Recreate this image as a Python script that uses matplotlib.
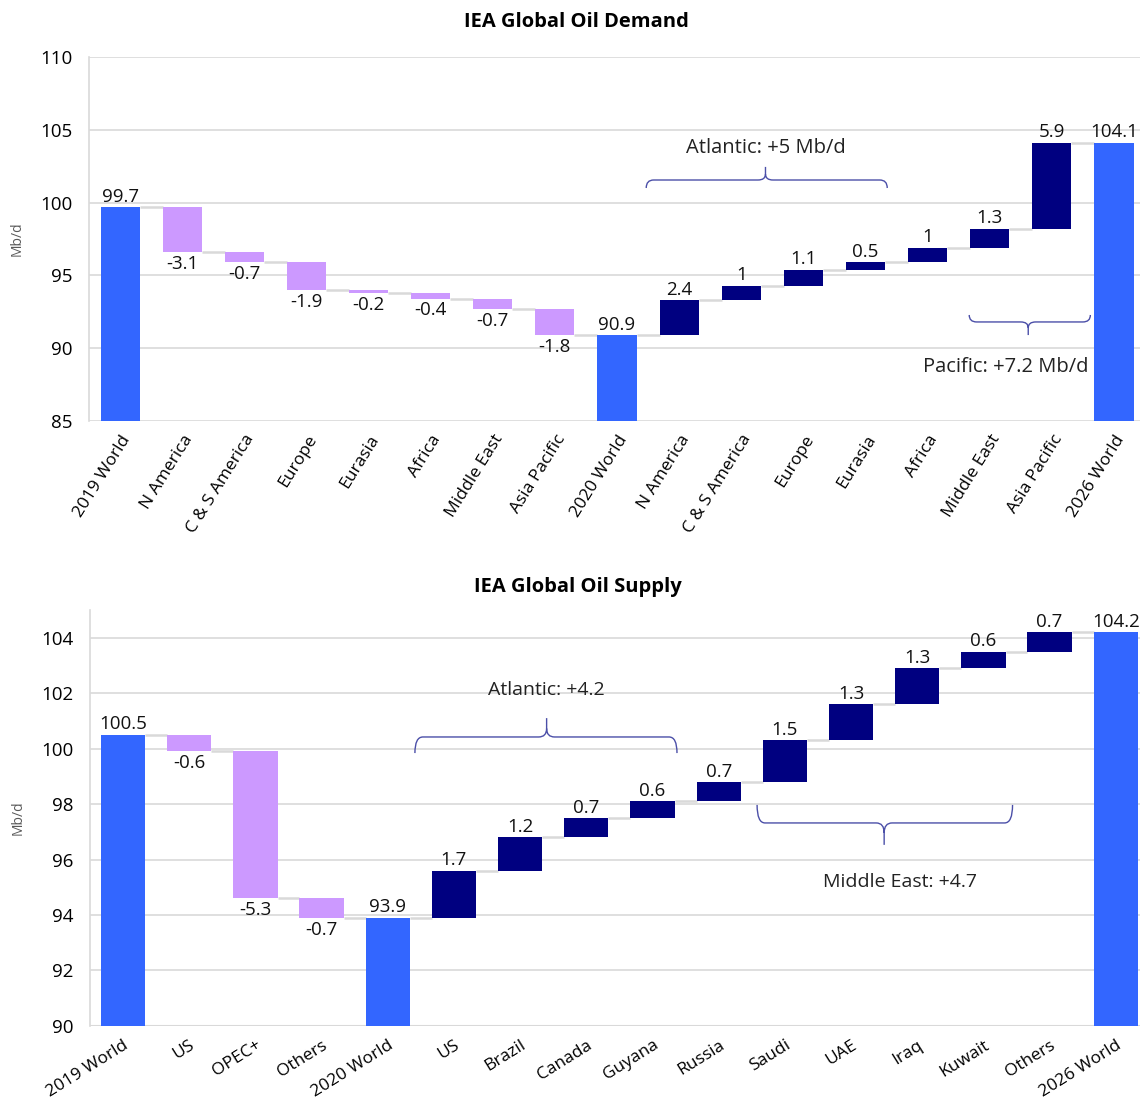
import matplotlib
matplotlib.use("Agg")
import matplotlib.pyplot as plt
from matplotlib.path import Path
from matplotlib.patches import PathPatch
import numpy as np

# ---------------- data ----------------
demand_cats = ["2019 World", "N America", "C & S America", "Europe", "Eurasia", "Africa",
               "Middle East", "Asia Pacific", "2020 World", "N America", "C & S America",
               "Europe", "Eurasia", "Africa", "Middle East", "Asia Pacific", "2026 World"]
demand_vals = [99.7, -3.1, -0.7, -1.9, -0.2, -0.4, -0.7, -1.8, 90.9,
               2.4, 1, 1.1, 0.5, 1, 1.3, 5.9, 104.1]
demand_total = [True, False, False, False, False, False, False, False, True,
                False, False, False, False, False, False, False, True]
demand_labels = ["99.7", "-3.1", "-0.7", "-1.9", "-0.2", "-0.4", "-0.7", "-1.8", "90.9",
                 "2.4", "1", "1.1", "0.5", "1", "1.3", "5.9", "104.1"]

supply_cats = ["2019 World", "US", "OPEC+", "Others", "2020 World", "US", "Brazil", "Canada",
               "Guyana", "Russia", "Saudi", "UAE", "Iraq", "Kuwait", "Others", "2026 World"]
supply_vals = [100.5, -0.6, -5.3, -0.7, 93.9, 1.7, 1.2, 0.7, 0.6, 0.7, 1.5, 1.3, 1.3, 0.6, 0.7, 104.2]
supply_total = [True, False, False, False, True, False, False, False, False, False,
                False, False, False, False, False, True]
supply_labels = ["100.5", "-0.6", "-5.3", "-0.7", "93.9", "1.7", "1.2", "0.7", "0.6", "0.7",
                 "1.5", "1.3", "1.3", "0.6", "0.7", "104.2"]

C_TOTAL = "#3366FF"
C_NEG = "#CC99FF"
C_POS = "#000080"
C_GRID = "#D9D9D9"
C_BRACE = "#4B4FA8"

plt.rcParams['font.family'] = ['Open Sans', 'DejaVu Sans']

fig = plt.figure(figsize=(11.40, 11.02), dpi=100)


def waterfall(ax, cats, vals, totals, labels, ylim, yticks, width, lab_fs, rot, cat_fs):
    n = len(cats)
    x = np.arange(n)
    bottoms, heights, colors, tops = [], [], [], []
    level = 0.0
    for v, t in zip(vals, totals):
        if t:
            b, h = ylim[0], v - ylim[0]
            level = v
            colors.append(C_TOTAL)
        else:
            if v < 0:
                b, h = level + v, -v
                colors.append(C_NEG)
            else:
                b, h = level, v
                colors.append(C_POS)
            level = level + v
        bottoms.append(b)
        heights.append(h)
        tops.append(level)
    ax.bar(x, heights, bottom=bottoms, width=width, color=colors, zorder=3)
    # connectors
    for i in range(n - 1):
        ax.plot([x[i] + width / 2, x[i + 1] - width / 2], [tops[i], tops[i]],
                color=C_GRID, lw=1.8, zorder=2, solid_capstyle='butt')
    # value labels
    for i in range(n):
        if totals[i] or vals[i] >= 0:
            ax.annotate(labels[i], (x[i], bottoms[i] + heights[i]), xytext=(0, 1),
                        textcoords='offset points', ha='center', va='bottom',
                        fontsize=lab_fs, color='#111111', zorder=4)
        else:
            ax.annotate(labels[i], (x[i], bottoms[i]), xytext=(0, -2),
                        textcoords='offset points', ha='center', va='top',
                        fontsize=lab_fs, color='#111111', zorder=4)
    ax.set_ylim(*ylim)
    ax.set_xlim(-0.5, n - 0.5)
    ax.set_yticks(yticks)
    ax.set_xticks(x)
    ax.set_xticklabels(cats, rotation=rot, ha='right', rotation_mode='anchor', fontsize=cat_fs)
    ax.tick_params(axis='both', length=0, pad=8)
    ax.tick_params(axis='y', labelsize=13.5, pad=12)
    ax.yaxis.grid(True, color=C_GRID, lw=1.2, zorder=0)
    ax.set_axisbelow(True)
    for s in ['top', 'right', 'bottom']:
        ax.spines[s].set_visible(False)
    ax.spines['left'].set_color(C_GRID)
    ax.spines['left'].set_linewidth(1.2)
    ax.set_ylabel("Mb/d", fontsize=10, color='#595959', labelpad=11)


def brace(ax, x0, x1, y_line, y_end, y_tip, x_tip, rx=0.12):
    ty = (y_tip - y_line)
    verts = [
        (x0, y_end), (x0, y_line), (x0 + rx, y_line),
        (x_tip - rx, y_line), (x_tip, y_line), (x_tip, y_line + ty * 0.45),
        (x_tip, y_tip),
        (x_tip, y_line + ty * 0.45), (x_tip, y_line), (x_tip + rx, y_line),
        (x1 - rx, y_line), (x1, y_line), (x1, y_end),
    ]
    codes = [Path.MOVETO, Path.CURVE3, Path.CURVE3,
             Path.LINETO, Path.CURVE3, Path.CURVE3,
             Path.LINETO,
             Path.MOVETO, Path.CURVE3, Path.CURVE3,
             Path.LINETO, Path.CURVE3, Path.CURVE3]
    ax.add_patch(PathPatch(Path(verts, codes), fill=False, edgecolor=C_BRACE, lw=1.0, zorder=5))


# ---------------- top chart ----------------
ax1 = fig.add_axes([0.0781, 0.6180, 0.9263, 0.3303])
waterfall(ax1, demand_cats, demand_vals, demand_total, demand_labels,
          (85, 110), [85, 90, 95, 100, 105, 110], 0.63, 13.5, 58, 12.5)
brace(ax1, 8.47, 12.35, 101.55, 101.0, 102.45, 10.39)
ax1.text(10.39, 103.75, "Atlantic: +5 Mb/d", ha='center', va='center', fontsize=14.5, color='#222222')
brace(ax1, 13.67, 15.62, 91.8, 92.28, 90.9, 14.62)
ax1.text(14.25, 88.71, "Pacific: +7.2 Mb/d", ha='center', va='center', fontsize=14.5, color='#222222')
fig.text(0.506, 0.980, "IEA Global Oil Demand", ha='center', va='center', fontsize=14.5, fontweight='bold')

# ---------------- bottom chart ----------------
ax2 = fig.add_axes([0.0789, 0.0690, 0.9289, 0.3775])
waterfall(ax2, supply_cats, supply_vals, supply_total, supply_labels,
          (90, 105), [90, 92, 94, 96, 98, 100, 102, 104], 0.67, 13.5, 32, 12.5)
ax2.axhline(90, color=C_GRID, lw=1.5, zorder=1)
brace(ax2, 4.41, 8.37, 100.42, 99.84, 101.1, 6.40)
ax2.text(6.40, 102.12, "Atlantic: +4.2", ha='center', va='center', fontsize=14, color='#222222')
brace(ax2, 9.58, 13.44, 97.32, 97.97, 96.53, 11.50)
ax2.text(11.74, 95.19, "Middle East: +4.7", ha='center', va='center', fontsize=14, color='#222222')
fig.text(0.507, 0.4673, "IEA Global Oil Supply", ha='center', va='center', fontsize=14.5, fontweight='bold')

fig.savefig("out.png", dpi=100)
